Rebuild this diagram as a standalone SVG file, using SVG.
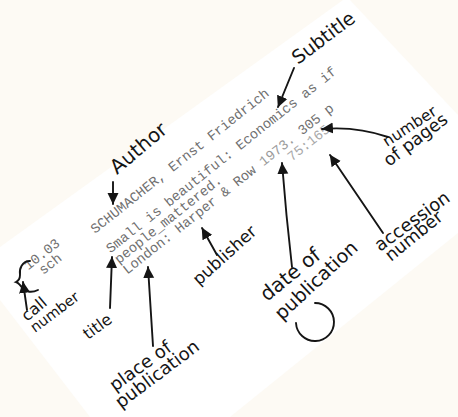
<svg xmlns="http://www.w3.org/2000/svg" xmlns:xlink="http://www.w3.org/1999/xlink" width="458" height="417" viewBox="0 0 458 417">
<defs>
<style>
.hand{font-family:"DejaVu Sans","Noto Sans",sans-serif;fill:#151515;}
.type{font-family:"Liberation Mono","DejaVu Sans Mono",monospace;font-size:13.8px;fill:#6f6f6f;}
.conn{fill:none;stroke:#151515;stroke-width:1.9;stroke-linecap:round;}
</style>
<marker id="ah" markerUnits="userSpaceOnUse" markerWidth="12" markerHeight="12" viewBox="0 0 12 12" refX="11" refY="6" orient="auto">
<path d="M0,0.5 L11.5,6 L0,11.5 Z" fill="#151515"/>
</marker>
<path id="p-author" d="M117,175 l100,-83.9"/>
<path id="p-subtitle" d="M298,65 l100,-75.4"/>
<path id="p-call" d="M27,322 l60,-50.3"/>
<path id="p-callnum" d="M35,333 l100,-75.4"/>
<path id="p-title" d="M88,340 l60,-43.6"/>
<path id="p-place" d="M115,392 l120,-87.2"/>
<path id="p-placepub" d="M121,409 l140,-105.5"/>
<path id="p-publisher" d="M199,286 l100,-90"/>
<path id="p-date" d="M267,302 l100,-81"/>
<path id="p-datepub" d="M282,321 l140,-130.5"/>
<path id="p-number" d="M387,147 l100,-64.9"/>
<path id="p-pages" d="M389,167 l100,-75.4"/>
<path id="p-accession" d="M380,252 l120,-87.2"/>
<path id="p-accnum" d="M391,262 l100,-81"/>
</defs>
<rect width="458" height="417" fill="#fdfaf4"/>
<polygon id="card" points="0,247 343,0 350,0 458,115 458,233 230,417 90,417 0,300" fill="#ffffff"/>

<g id="card-text" class="type" transform="translate(95,234) rotate(-38.5)">
<text x="-75" y="-13">10.03</text>
<text x="-66" y="0">sch</text>
<text x="0" y="0">SCHUMACHER, Ernst Friedrich</text>
<text x="0" y="25">Small is beautiful: Economics as if</text>
<text x="0" y="38.5">people_mattered.</text>
<text x="0" y="52">London: Harper &amp; Row <tspan fill="#9a9a9a">1973.</tspan> 305 p</text>
<text x="199" y="66" fill="#a8a8a8">75:165</text>
</g>

<g id="connectors">
<path class="conn" d="M30,261 C22,261 19,269 20,275 C20,279 18,281 16,282 C19,283 21,286 23,289 C26,292 32,293 38,290"/>
<path class="conn" marker-end="url(#ah)" d="M27,310 L23,282"/>
<path class="conn" marker-end="url(#ah)" d="M113,182 L113,204"/>
<path class="conn" marker-end="url(#ah)" d="M294,68 L278,107"/>
<path class="conn" marker-end="url(#ah)" d="M110,308 L112,257"/>
<path class="conn" marker-end="url(#ah)" d="M153,346 L148,267"/>
<path class="conn" marker-end="url(#ah)" d="M217,255 L202,228"/>
<path class="conn" marker-end="url(#ah)" d="M292,267 Q286,215 282,163"/>
<path class="conn" marker-end="url(#ah)" d="M383,233 L330,155"/>
<path class="conn" marker-end="url(#ah)" d="M388,137 Q356,126 322,129"/>
<path class="conn" d="M315,303 A19,19 0 1 1 296,323"/>
</g>

<g id="author" class="hand"><text font-size="20"><textPath href="#p-author" xlink:href="#p-author">Author</textPath></text></g>
<g id="subtitle" class="hand"><text font-size="19"><textPath href="#p-subtitle" xlink:href="#p-subtitle">Subtitle</textPath></text></g>
<g id="call-number" class="hand">
<text font-size="16"><textPath href="#p-call" xlink:href="#p-call">call</textPath></text>
<text font-size="14.5"><textPath href="#p-callnum" xlink:href="#p-callnum">number</textPath></text>
</g>
<g id="title" class="hand"><text font-size="16"><textPath href="#p-title" xlink:href="#p-title">title</textPath></text></g>
<g id="place-of-publication" class="hand">
<text font-size="18"><textPath href="#p-place" xlink:href="#p-place">place of</textPath></text>
<text font-size="18"><textPath href="#p-placepub" xlink:href="#p-placepub">publication</textPath></text>
</g>
<g id="publisher" class="hand"><text font-size="17"><textPath href="#p-publisher" xlink:href="#p-publisher">publisher</textPath></text></g>
<g id="date-of-publication" class="hand">
<text font-size="20"><textPath href="#p-date" xlink:href="#p-date">date of</textPath></text>
<text font-size="19"><textPath href="#p-datepub" xlink:href="#p-datepub">publication</textPath></text>
</g>
<g id="number-of-pages" class="hand">
<text font-size="15.5"><textPath href="#p-number" xlink:href="#p-number">number</textPath></text>
<text font-size="17.5"><textPath href="#p-pages" xlink:href="#p-pages">of pages</textPath></text>
</g>
<g id="accession-number" class="hand">
<text font-size="18"><textPath href="#p-accession" xlink:href="#p-accession">accession</textPath></text>
<text font-size="17.5"><textPath href="#p-accnum" xlink:href="#p-accnum">number</textPath></text>
</g>
</svg>
